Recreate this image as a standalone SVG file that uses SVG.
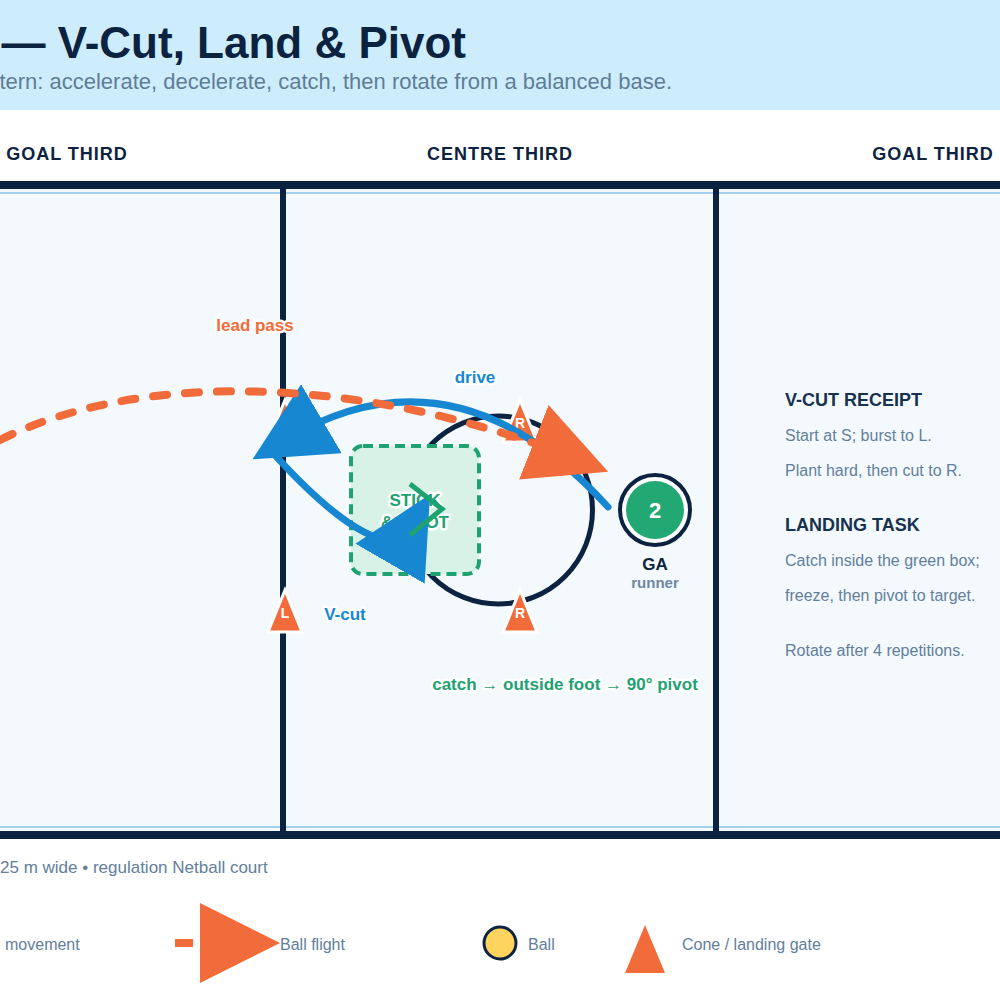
<svg xmlns="http://www.w3.org/2000/svg" width="1000" height="1000" viewBox="0 0 1000 1000">
<defs>
<style>
text{font-family:"Liberation Sans",Arial,Helvetica,sans-serif}
.title{font-size:44px;font-weight:700;fill:#0b2340}
.sub{font-size:22px;fill:#5f7d97}
.zone{font-size:18px;font-weight:700;fill:#0b2340;letter-spacing:1px;text-anchor:middle}
.cone{fill:#f26b3a;stroke:#fff;stroke-width:3}
.cone-leg{fill:#f26b3a}
.cone-lbl{font-size:14px;font-weight:700;fill:#fff;text-anchor:middle}
.move{fill:none;stroke:#1787d2;stroke-width:7;stroke-linecap:round}
.pass{fill:none;stroke:#f26b3a;stroke-width:8;stroke-linecap:round;stroke-dasharray:14 18}
.halo{paint-order:stroke;stroke:#fff;stroke-width:5;stroke-linejoin:round;font-weight:700;font-size:17px;text-anchor:middle}
.ph{font-size:18px;font-weight:700;fill:#16324f}
.pt{font-size:16px;fill:#62809b}
.leg{font-size:16px;fill:#62809b}
</style>
<marker id="ah-blue" viewBox="0 0 10 10" refX="5" refY="5" markerWidth="80" markerHeight="80" markerUnits="userSpaceOnUse" orient="auto">
<path d="M0,0 L10,5 L0,10 z" fill="#1787d2"/>
</marker>
<marker id="ah-orange" viewBox="0 0 10 10" refX="5" refY="5" markerWidth="80" markerHeight="80" markerUnits="userSpaceOnUse" orient="auto">
<path d="M0,0 L10,5 L0,10 z" fill="#f26b3a"/>
</marker>
</defs>

<rect x="0" y="0" width="1000" height="1000" fill="#ffffff"/>

<g id="header">
<rect x="0" y="0" width="1000" height="110" fill="#cdedfd"/>
<text class="title" x="466" y="58" text-anchor="end">— V-Cut, Land &amp; Pivot</text>
<text class="sub" x="672" y="89" text-anchor="end">tern: accelerate, decelerate, catch, then rotate from a balanced base.</text>
</g>

<g id="zone-labels">
<text class="zone" x="67" y="160">GOAL THIRD</text>
<text class="zone" x="500" y="160">CENTRE THIRD</text>
<text class="zone" x="933" y="160">GOAL THIRD</text>
</g>

<g id="court">
<rect x="-20" y="185" width="1040" height="650" fill="#f4f9fe" stroke="#0b2340" stroke-width="8"/>
<rect x="-20" y="193" width="1040" height="634" fill="none" stroke="#a2cfec" stroke-width="2"/>
<line x1="283" y1="189" x2="283" y2="831" stroke="#0b2340" stroke-width="6"/>
<line x1="716" y1="189" x2="716" y2="831" stroke="#0b2340" stroke-width="6"/>
</g>

<g id="pivot-ring">
<circle cx="498.5" cy="510" r="94" fill="none" stroke="#0b2340" stroke-width="5"/>
</g>

<g id="cones">
<g id="cone-s"><polygon class="cone" points="285,400 268,442 302,442"/></g>
<g id="cone-l"><polygon class="cone" points="285,590 268,632 302,632"/><text class="cone-lbl" x="285" y="618">L</text></g>
<g id="cone-r-top"><polygon class="cone" points="520,400 503,442 537,442"/><text class="cone-lbl" x="520" y="428">R</text></g>
<g id="cone-r-bottom"><polygon class="cone" points="520,590 503,632 537,632"/><text class="cone-lbl" x="520" y="618">R</text></g>
</g>

<g id="landing-box">
<rect x="351" y="446" width="128" height="128" rx="12" fill="#d9f2e7" stroke="#1fa271" stroke-width="4" stroke-dasharray="10 6"/>
<text class="halo" x="415" y="506" fill="#1fa271">STICK</text>
<text class="halo" x="415" y="528" fill="#1fa271">&amp; PIVOT</text>
</g>

<g id="connectors">
<path id="drive" class="move" d="M608,507 C496,384 387,380 287,439" marker-end="url(#ah-blue)"/>
<path id="vcut" class="move" d="M272,452 C349,537 395,555 410,529" marker-end="url(#ah-blue)"/>
<path id="lead-pass" class="pass" d="M0,440 C152,364 383,382.6 571,457" marker-end="url(#ah-orange)"/>
</g>

<g id="pivot-mark">
<polyline points="410,484 442,509 410,535" fill="none" stroke="#1fa271" stroke-width="5"/>
</g>

<g id="player-ga">
<circle cx="655" cy="510" r="35" fill="#ffffff" stroke="#0b2340" stroke-width="4"/>
<circle cx="655" cy="510" r="29" fill="#22a872"/>
<text x="655" y="518" font-size="22" font-weight="700" fill="#ffffff" text-anchor="middle">2</text>
<text x="655" y="570" font-size="17" font-weight="700" fill="#0b2340" text-anchor="middle">GA</text>
<text x="655" y="588" font-size="15" font-weight="700" fill="#6d88a1" text-anchor="middle">runner</text>
</g>

<g id="labels">
<text class="halo" x="255" y="331" fill="#f26b3a">lead pass</text>
<text class="halo" x="475" y="383" fill="#1787d2">drive</text>
<text class="halo" x="345" y="620" fill="#1787d2">V-cut</text>
<text class="halo" x="565" y="690" fill="#1fa271">catch → outside foot → 90° pivot</text>
</g>

<g id="notes">
<text class="ph" x="785" y="406">V-CUT RECEIPT</text>
<text class="pt" x="785" y="441">Start at S; burst to L.</text>
<text class="pt" x="785" y="476">Plant hard, then cut to R.</text>
<text class="ph" x="785" y="531">LANDING TASK</text>
<text class="pt" x="785" y="566">Catch inside the green box;</text>
<text class="pt" x="785" y="601">freeze, then pivot to target.</text>
<text class="pt" x="785" y="656">Rotate after 4 repetitions.</text>
</g>

<g id="footer">
<text x="0" y="873" font-size="17" fill="#62809b">25 m wide • regulation Netball court</text>
</g>

<g id="legend">
<text class="leg" x="5" y="950">movement</text>
<path class="pass" d="M175,943 L240,943" style="stroke-linecap:butt;stroke-dasharray:18 14" marker-end="url(#ah-orange)"/>
<text class="leg" x="280" y="950">Ball flight</text>
<circle cx="500" cy="943" r="16" fill="#ffd45e" stroke="#0b2340" stroke-width="3"/>
<text class="leg" x="528" y="950">Ball</text>
<polygon class="cone-leg" points="645,925 665,973 625,973"/>
<text class="leg" x="682" y="950">Cone / landing gate</text>
</g>
</svg>
